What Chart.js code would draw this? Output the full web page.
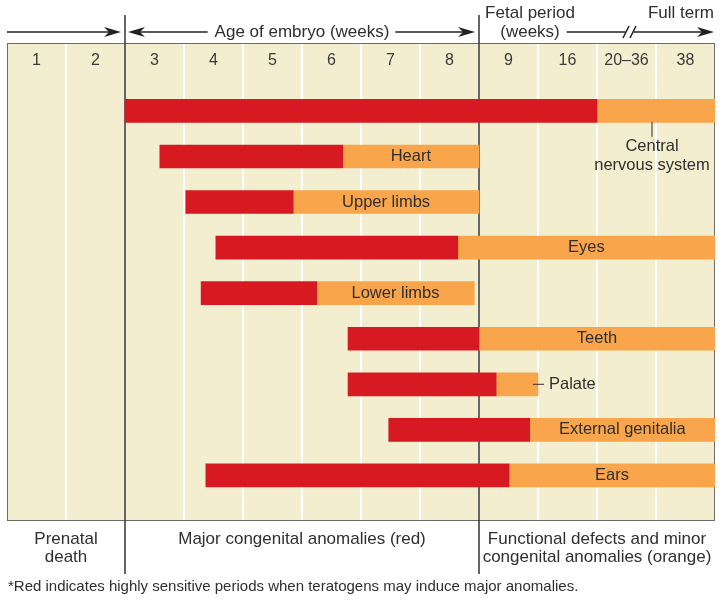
<!DOCTYPE html>
<html>
<head>
<meta charset="utf-8">
<title>Critical periods in human development</title>
<script src="https://cdn.jsdelivr.net/npm/chart.js@4.4.1/dist/chart.umd.min.js"></script>
<style>
  html, body { margin: 0; padding: 0; background: #fff; overflow: hidden; }
  canvas { display: block; }
</style>
</head>
<body>
<canvas id="chart" width="723" height="600"></canvas>
<script>
// Week columns across the top
const weekLabels = ['1', '2', '3', '4', '5', '6', '7', '8', '9', '16', '20–36', '38'];

// One row per organ, top to bottom
const organs = ['Central nervous system', 'Heart', 'Upper limbs', 'Eyes', 'Lower limbs',
  'Teeth', 'Palate', 'External genitalia', 'Ears'];

// Sensitive periods in column units (0 = start of week 1 column, 12 = full term)
const redStart = [2.00, 2.59, 3.03, 3.54, 3.29, 5.78, 5.78, 6.47, 3.37];
const redEnd = [10.00, 5.69, 4.85, 7.64, 5.25, 8.00, 8.29, 8.86, 8.51];
const orangeEnd = [12.00, 8.00, 8.00, 12.00, 7.92, 12.00, 9.00, 12.00, 12.00];

// Period boundaries (in column units)
const embryoStart = 2;
const fetalStart = 8;

const RED = '#d71a21';
const ORANGE = '#f8a54b';
const BEIGE = '#f3eecf';
const INK = '#2f2f2f';
const FONT = '"Liberation Sans", Arial, sans-serif';

Chart.defaults.font.family = FONT;
Chart.defaults.color = INK;

// notched arrow head, dir 1 = pointing right, -1 = pointing left
function arrowHead(ctx, x, y, dir) {
  ctx.beginPath();
  ctx.moveTo(x, y);
  ctx.lineTo(x - dir * 17, y - 5);
  ctx.lineTo(x - dir * 12, y);
  ctx.lineTo(x - dir * 17, y + 5);
  ctx.closePath();
  ctx.fill();
}

function hLine(ctx, x1, x2, y) {
  ctx.beginPath();
  ctx.moveTo(x1, y);
  ctx.lineTo(x2, y);
  ctx.stroke();
}

// Beige panel, white column lines and the period dividers
const backdrop = {
  id: 'backdrop',
  beforeDraw(chart) {
    const { ctx, chartArea, scales: { x } } = chart;
    ctx.save();
    ctx.fillStyle = '#fff';
    ctx.fillRect(0, 0, chart.width, chart.height);
    ctx.fillStyle = BEIGE;
    ctx.fillRect(chartArea.left, x.top, chartArea.right - chartArea.left, chartArea.bottom - x.top);
    ctx.strokeStyle = '#fff';
    ctx.lineWidth = 2;
    for (let i = 1; i < weekLabels.length; i++) {
      const px = x.getPixelForValue(i);
      ctx.beginPath();
      ctx.moveTo(px, x.top);
      ctx.lineTo(px, chartArea.bottom);
      ctx.stroke();
    }
    ctx.strokeStyle = '#6b6b6b';
    ctx.lineWidth = 1;
    ctx.strokeRect(chartArea.left + 0.5, x.top + 0.5,
      chartArea.right - chartArea.left - 1, chartArea.bottom - x.top - 1);
    ctx.restore();
  },
  beforeDatasetsDraw(chart) {
    const { ctx, scales: { x } } = chart;
    ctx.save();
    ctx.strokeStyle = '#333';
    ctx.lineWidth = 1.5;
    [embryoStart, fetalStart].forEach(v => {
      const px = x.getPixelForValue(v);
      ctx.beginPath();
      ctx.moveTo(px, 15);
      ctx.lineTo(px, 574);
      ctx.stroke();
    });
    ctx.restore();
  }
};

// Organ names on the orange parts of the bars
const barLabels = {
  id: 'barLabels',
  afterDatasetsDraw(chart) {
    const { ctx } = chart;
    const meta = chart.getDatasetMeta(1);
    ctx.save();
    ctx.fillStyle = INK;
    ctx.strokeStyle = INK;
    ctx.lineWidth = 1;
    ctx.font = `16.5px ${FONT}`;
    ctx.textBaseline = 'middle';
    meta.data.forEach((el, i) => {
      const { x: end, base, y } = el.getProps(['x', 'base', 'y'], true);
      const name = organs[i];
      if (i === 0) {
        // central nervous system: label hangs below the bar
        const cx = (end + base) / 2 - 4;
        ctx.beginPath();
        ctx.moveTo(cx, y + 11);
        ctx.lineTo(cx, y + 26);
        ctx.stroke();
        ctx.textAlign = 'center';
        const cut = name.indexOf(' ');
        ctx.fillText(name.slice(0, cut), cx, y + 36);
        ctx.fillText(name.slice(cut + 1), cx, y + 55);
      } else if (name === 'Palate') {
        ctx.beginPath();
        ctx.moveTo(end - 5, y);
        ctx.lineTo(end + 6, y);
        ctx.stroke();
        ctx.textAlign = 'left';
        ctx.fillText(name, end + 11, y);
      } else {
        ctx.textAlign = 'center';
        ctx.fillText(name, (end + base) / 2, y);
      }
    });
    ctx.restore();
  }
};

// Header arrows and the texts under the panel
const frame = {
  id: 'frame',
  afterDraw(chart) {
    const { ctx, chartArea, scales: { x } } = chart;
    const left = chartArea.left;
    const right = chartArea.right;
    const pEmbryo = x.getPixelForValue(embryoStart);
    const pFetal = x.getPixelForValue(fetalStart);
    const yA = 32;
    ctx.save();
    ctx.strokeStyle = '#222';
    ctx.fillStyle = '#222';
    ctx.lineWidth = 1.5;
    ctx.font = `17px ${FONT}`;
    ctx.textBaseline = 'middle';
    ctx.textAlign = 'center';

    // before the embryo period
    hLine(ctx, left, pEmbryo - 14, yA);
    arrowHead(ctx, pEmbryo - 4, yA, 1);

    // embryo period
    const title = 'Age of embryo (weeks)';
    const mid = (pEmbryo + pFetal) / 2;
    const tw = ctx.measureText(title).width;
    arrowHead(ctx, pEmbryo + 3, yA, -1);
    hLine(ctx, pEmbryo + 14, mid - tw / 2 - 7, yA);
    hLine(ctx, mid + tw / 2 + 6, pFetal - 14, yA);
    arrowHead(ctx, pFetal - 4, yA, 1);

    // fetal period with the break
    const fx = pFetal + 51;
    ctx.fillStyle = INK;
    ctx.fillText(title, mid, yA);
    ctx.fillText('Fetal period', fx, 13);
    ctx.fillText('(weeks)', fx, yA);
    const ww = ctx.measureText('(weeks)').width;
    const bx = x.getPixelForValue(10.5) + 3;
    ctx.fillStyle = '#222';
    hLine(ctx, fx + ww / 2 + 7, bx - 4, yA);
    hLine(ctx, bx + 4, right - 12, yA);
    [bx - 3.5, bx + 3.5].forEach(sx => {
      ctx.beginPath();
      ctx.moveTo(sx - 3, yA + 6);
      ctx.lineTo(sx + 3, yA - 6);
      ctx.stroke();
    });
    arrowHead(ctx, right - 1, yA, 1);
    ctx.fillStyle = INK;
    ctx.textAlign = 'right';
    ctx.fillText('Full term', right - 1, 13);

    // below the panel
    ctx.textAlign = 'center';
    const c1 = (left + pEmbryo) / 2;
    const c3 = (pFetal + right) / 2;
    ctx.fillText('Prenatal', c1, 539);
    ctx.fillText('death', c1, 557);
    ctx.fillText('Major congenital anomalies (red)', mid, 539);
    ctx.fillText('Functional defects and minor', c3, 539);
    ctx.fillText('congenital anomalies (orange)', c3, 557);

    ctx.textAlign = 'left';
    ctx.font = `15px ${FONT}`;
    ctx.fillText('*Red indicates highly sensitive periods when teratogens may induce major anomalies.', left + 1, 587);
    ctx.restore();
  }
};

new Chart(document.getElementById('chart'), {
  type: 'bar',
  data: {
    datasets: [
      {
        label: 'Major congenital anomalies',
        data: organs.map((_, i) => ({ y: i, x: [redStart[i], redEnd[i]] })),
        backgroundColor: RED
      },
      {
        label: 'Functional defects and minor congenital anomalies',
        data: organs.map((_, i) => ({ y: i, x: [redEnd[i], orangeEnd[i]] })),
        backgroundColor: ORANGE
      }
    ]
  },
  options: {
    indexAxis: 'y',
    responsive: false,
    animation: false,
    devicePixelRatio: 1,
    layout: { padding: { left: 7, right: 8, top: 43, bottom: 79 } },
    datasets: { bar: { grouped: false, barThickness: 23, borderWidth: 0 } },
    scales: {
      x: {
        type: 'linear',
        position: 'top',
        min: 0,
        max: 12,
        offset: false,
        grid: { display: false, drawTicks: false },
        border: { display: false },
        afterBuildTicks: scale => {
          scale.ticks = weekLabels.map((_, i) => ({ value: i + 0.5 }));
        },
        ticks: {
          autoSkip: false,
          maxRotation: 0,
          padding: 8.4,
          color: '#3a3a3a',
          font: { size: 16 },
          callback: (value, index) => weekLabels[index]
        }
      },
      y: {
        type: 'linear',
        reverse: true,
        offset: false,
        min: -0.7,
        max: 9,
        display: false
      }
    },
    plugins: {
      legend: { display: false },
      tooltip: { enabled: false }
    }
  },
  plugins: [backdrop, barLabels, frame]
});
</script>
</body>
</html>
